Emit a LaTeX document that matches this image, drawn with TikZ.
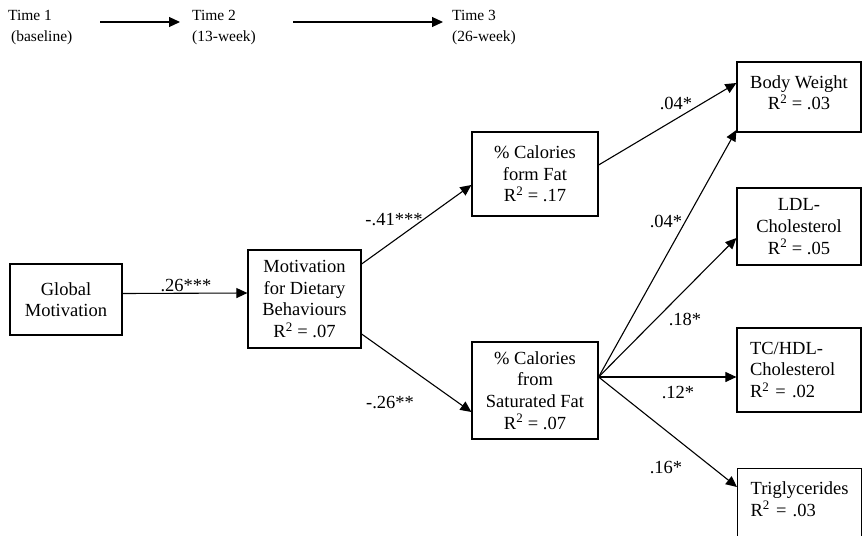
\documentclass[tikz,border=0pt]{standalone}
\usepackage{fontspec}
\setmainfont{Liberation Serif}
\usetikzlibrary{arrows.meta}
\begin{document}
\begin{tikzpicture}[x=1pt,y=-1pt,
  box/.style={draw,line width=1.2pt,inner sep=0pt,align=center,font=\fontsize{18.5}{21.6}\selectfont},
  lbl/.style={inner sep=0pt,font=\fontsize{18.5}{21.6}\selectfont},
  hdr/.style={inner sep=0pt,anchor=north west,align=left,font=\fontsize{15.5}{21}\selectfont},
  arr/.style={line width=1.1pt,-{Triangle[length=11pt,width=10pt]}}]
\useasboundingbox (0,0) rectangle (863,536);
% header
\node[hdr] (t1) at (8,10) {Time 1\\\hspace{3pt}(baseline)};
\node[hdr] (t2) at (192,10) {Time 2\\(13-week)};
\node[hdr] (t3) at (452,10) {Time 3\\(26-week)};
\coordinate (h1s) at (100,22);
\coordinate (h1e) at (180,22);
\coordinate (h2s) at (293,22);
\coordinate (h2e) at (443,22);
\draw[arr] (h1s) -- (h1e);
\draw[arr] (h2s) -- (h2e);
% boxes
\node[box,minimum width=112pt,minimum height=71pt] (glob) at (66,299.5) {Global\\Motivation};
\node[box,minimum width=113pt,minimum height=98pt] (mot) at (304.5,299) {Motivation\\for Dietary\\Behaviours\\R\textsuperscript{2} = .07};
\node[box,minimum width=126pt,minimum height=84pt] (fat) at (535,174) {\% Calories\\form Fat\\R\textsuperscript{2} = .17};
\node[box,minimum width=126pt,minimum height=97pt] (sat) at (535,390.5) {\% Calories\\from\\Saturated Fat\\R\textsuperscript{2} = .07};
\node[box,minimum width=124pt,minimum height=70pt,text depth=9pt] (bw) at (799,97) {Body Weight\\R\textsuperscript{2} = .03};
\node[box,minimum width=124pt,minimum height=77pt] (ldl) at (799,226.5) {LDL-\\Cholesterol\\R\textsuperscript{2} = .05};
\node[box,align=left,text width=98pt,inner xsep=13pt,minimum height=84pt] (tc) at (799,370) {TC/HDL-\\Cholesterol\\R\textsuperscript{2} = .02};
\node[box,align=left,text width=98pt,inner xsep=13pt,inner ysep=13pt,anchor=north west] (tri) at (737,468) {Triglycerides\\R\textsuperscript{2} = .03\\\mbox{}};
% connectors
\coordinate (s) at ([yshift=13.5pt]sat.east);
\draw[arr] ([yshift=6pt]glob.east) -- ([yshift=6pt]mot.west);
\draw[arr] ([yshift=35pt]mot.east) -- ([yshift=-11pt]fat.west);
\draw[arr] ([yshift=-35pt]mot.east) -- ([yshift=-21.5pt]sat.west);
\draw[arr] ([yshift=9pt]fat.east) -- ([yshift=14pt]bw.west);
\draw[arr] (s) -- ([yshift=-33pt]bw.west);
\draw[arr] (s) -- ([yshift=-11.5pt]ldl.west);
\draw[arr] (s) -- ([yshift=-7pt]tc.west);
\draw[arr] (s) -- ([yshift=-19pt]tri.north west);
% labels
\node[lbl] (l1) at (186,286) {.26***};
\node[lbl] (l2) at (394,220) {-.41***};
\node[lbl] (l3) at (390,403) {-.26**};
\node[lbl] (l4) at (676,103) {.04*};
\node[lbl] (l5) at (666,221) {.04*};
\node[lbl] (l6) at (685,319) {.18*};
\node[lbl] (l7) at (678,393) {.12*};
\node[lbl] (l8) at (666,468) {.16*};
\end{tikzpicture}
\end{document}
